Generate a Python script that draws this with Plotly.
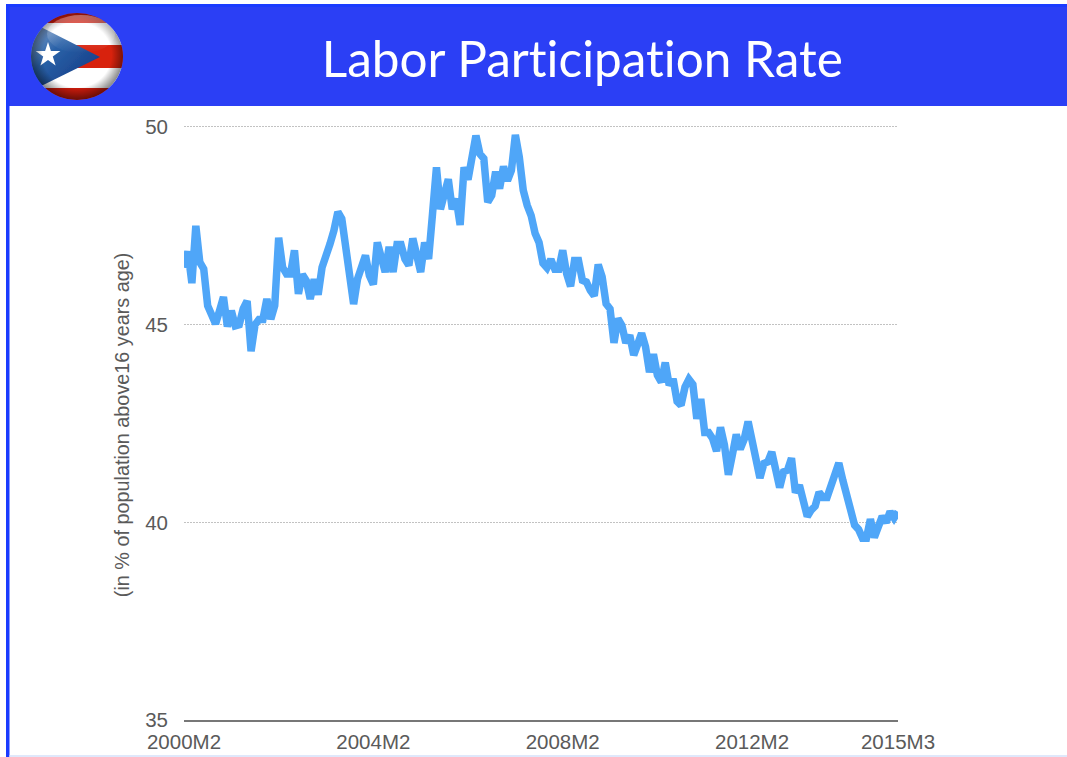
import base64
import plotly.graph_objects as go

W, H = 1067, 757

TITLE = "Labor Participation Rate"
Y_TITLE = "(in % of population above16 years age)"
Y_TICKS = [35, 40, 45, 50]
X_TICKS = ["2000M2", "2004M2", "2008M2", "2012M2", "2015M3"]

rate_2000_2003 = [46.44, 46.85, 46.05, 47.50, 46.58, 46.41, 45.48, 45.27, 45.02, 45.35, 45.70,
                  44.95, 45.35, 44.97, 45.00, 45.40, 45.60, 44.33, 45.00, 45.13, 45.13, 45.65,
                  45.14, 45.48, 47.20, 46.45, 46.28, 46.28, 46.88, 45.78, 46.27, 46.11, 45.65,
                  46.15, 45.76, 46.45, 46.83, 47.04, 47.38, 47.85, 47.68, 46.92, 46.20, 45.52,
                  46.16, 46.41, 46.75, 46.24]
rate_2004_2007 = [46.02, 47.08, 46.66, 46.33, 46.97, 46.33, 47.03, 47.03, 46.66, 46.50, 47.18,
                  46.70, 46.33, 47.08, 46.66, 47.80, 48.98, 47.92, 48.27, 48.68, 47.92, 48.18,
                  47.52, 48.98, 48.67, 49.28, 49.78, 49.32, 49.20, 48.10, 48.27, 48.87, 48.44,
                  49.00, 48.64, 48.90, 49.80, 49.24, 48.40, 48.02, 47.76, 47.31, 47.08, 46.55,
                  46.44, 46.65, 46.40, 46.40]
rate_2008_2011 = [46.88, 46.29, 45.97, 46.62, 46.62, 46.12, 46.08, 45.87, 45.73, 46.52, 46.21,
                  45.53, 45.40, 44.54, 45.15, 44.98, 44.54, 44.73, 44.23, 44.50, 44.78, 44.44,
                  43.80, 44.25, 43.72, 43.55, 44.04, 43.47, 43.63, 43.06, 42.96, 43.42, 43.62,
                  43.49, 42.62, 43.12, 42.27, 42.27, 42.12, 41.80, 42.40, 41.96, 41.20, 41.70,
                  42.22, 41.85, 42.10, 42.55]
rate_2012_2015 = [42.08, 41.66, 41.12, 41.49, 41.53, 41.78, 41.24, 40.88, 41.28, 41.32, 41.62,
                  40.75, 40.94, 40.52, 40.15, 40.31, 40.41, 40.76, 40.63, 40.63, 40.88, 41.15,
                  41.50, 41.07, 40.73, 40.40, 39.93, 39.82, 39.60, 39.60, 40.08, 39.62, 39.89,
                  40.15, 40.00, 40.27, 40.11, 40.27]

rate = rate_2000_2003 + rate_2004_2007 + rate_2008_2011 + rate_2012_2015
months = [f"{2000 + (m + 1) // 12}M{(m + 1) % 12 + 1}" for m in range(len(rate))]

flag_svg = """<svg xmlns="http://www.w3.org/2000/svg" width="368" height="348" viewBox="0 0 92 87">
<defs>
<clipPath id="c"><ellipse cx="46" cy="43.5" rx="46" ry="43.5"/></clipPath>
<radialGradient id="shade" cx="50%" cy="48%" r="52%">
<stop offset="72%" stop-color="#000" stop-opacity="0"/>
<stop offset="100%" stop-color="#000" stop-opacity="0.5"/></radialGradient>
<linearGradient id="blue" x1="0" y1="0" x2="1" y2="1">
<stop offset="0%" stop-color="#9db2d4"/><stop offset="38%" stop-color="#2a62a8"/>
<stop offset="100%" stop-color="#0d2f7c"/></linearGradient>
<linearGradient id="gloss" x1="0" y1="0" x2="0" y2="1">
<stop offset="0%" stop-color="#fff" stop-opacity="0.35"/>
<stop offset="100%" stop-color="#fff" stop-opacity="0"/></linearGradient>
<filter id="b"><feGaussianBlur stdDeviation="0.7"/></filter>
</defs>
<g clip-path="url(#c)"><g filter="url(#b)">
<rect width="92" height="87" fill="#cf1f0c"/>
<rect y="10" width="92" height="22" fill="#ffffff"/>
<rect y="32" width="92" height="23" fill="#d8200f"/>
<rect y="55" width="92" height="20" fill="#ffffff"/>
<path d="M-2 8 L69 44 L-2 79 Z" fill="url(#blue)"/>
<path d="M17 29 L19.9 38 L29.4 38 L21.8 43.5 L24.6 52.5 L17 47 L9.4 52.5 L12.2 43.5 L4.6 38 L14.1 38 Z" fill="#ffffff"/>
</g>
<ellipse cx="46" cy="43.5" rx="46" ry="43.5" fill="url(#shade)"/>
<ellipse cx="50" cy="21" rx="34" ry="19" fill="url(#gloss)"/>
</g></svg>"""
flag_uri = "data:image/svg+xml;base64," + base64.b64encode(flag_svg.encode()).decode()


def px(x):
    return x / W


def py(y):
    return 1 - y / H


fig = go.Figure(
    go.Scatter(
        x=months,
        y=rate,
        mode="lines",
        line=dict(color="#4fa6f8", width=7.5, shape="linear"),
        cliponaxis=False,
        hoverinfo="x+y",
    )
)

fig.update_layout(
    width=W,
    height=H,
    margin=dict(l=0, r=0, t=0, b=0),
    paper_bgcolor="#ffffff",
    plot_bgcolor="#ffffff",
    showlegend=False,
    font=dict(family="Liberation Sans, Arial, sans-serif", color="#5a5a5a", size=20),
    xaxis=dict(
        domain=[px(184), px(898)],
        type="category",
        categoryorder="array",
        categoryarray=months,
        range=[0, len(months) - 1],
        tickmode="array",
        tickvals=X_TICKS,
        ticktext=X_TICKS,
        ticks="",
        ticklabelstandoff=3,
        showgrid=False,
        zeroline=False,
        showline=True,
        linecolor="#777777",
        linewidth=1.5,
        tickangle=0,
        tickfont=dict(size=20.5, color="#5a5a5a"),
        automargin=False,
    ),
    yaxis=dict(
        domain=[py(720), py(125)],
        range=[35, 50.05],
        tickmode="array",
        tickvals=Y_TICKS,
        ticks="",
        ticklen=0,
        ticklabelstandoff=15,
        showgrid=True,
        gridcolor="#c2c2c2",
        griddash="1.5px,1.5px",
        gridwidth=1,
        zeroline=False,
        showline=False,
        tickfont=dict(size=20.5, color="#5a5a5a"),
        automargin=False,
    ),
    shapes=[
        dict(type="rect", xref="paper", yref="paper", layer="below",
             x0=px(6), x1=1, y0=py(106), y1=py(4), fillcolor="#2b3ff5", line_width=0),
        dict(type="rect", xref="paper", yref="paper", layer="below",
             x0=px(6), x1=1, y0=py(7), y1=py(4), fillcolor="#1a3bff", line_width=0),
        dict(type="rect", xref="paper", yref="paper", layer="below",
             x0=px(6), x1=px(9.5), y0=0, y1=py(4), fillcolor="#1a3bff", line_width=0),
        dict(type="rect", xref="paper", yref="paper", layer="below",
             x0=px(9.5), x1=1, y0=0, y1=py(755), fillcolor="#dfe8fb", line_width=0),
    ],
    images=[
        dict(source=flag_uri, xref="paper", yref="paper", x=px(31), y=py(13),
             sizex=px(92), sizey=87 / H, xanchor="left", yanchor="top",
             sizing="stretch", layer="above"),
    ],
    annotations=[
        dict(text=TITLE, xref="paper", yref="paper", x=px(583), y=py(58),
             xanchor="center", yanchor="middle", showarrow=False,
             font=dict(family="Lato, sans-serif", size=49.5, color="#ffffff")),
        dict(text=Y_TITLE, xref="paper", yref="paper", x=px(122), y=py(425),
             xanchor="center", yanchor="middle", showarrow=False, textangle=-90,
             font=dict(size=19.8, color="#5a5a5a")),
    ],
)

PAGE_CSS = (
    "document.body.style.margin='0';"
    "document.head.insertAdjacentHTML('beforeend',"
    "'<style>.annotation-text{font-variant-ligatures:none !important;"
    "font-feature-settings:\"liga\" 0,\"clig\" 0,\"dlig\" 0 !important;"
    "letter-spacing:0.01px !important}</style>');"
)
fig.write_html("out.html", post_script=PAGE_CSS, config={"displayModeBar": False})
